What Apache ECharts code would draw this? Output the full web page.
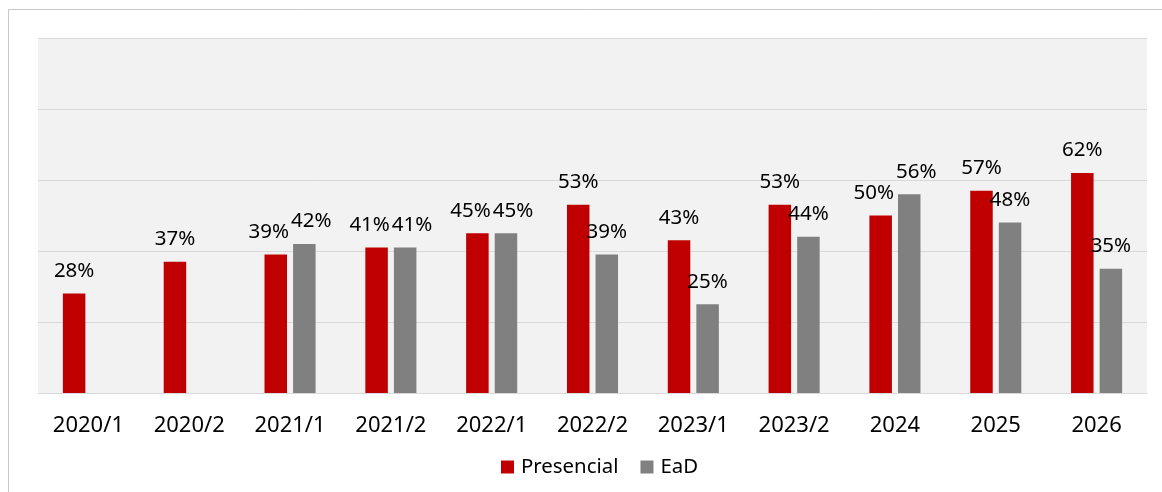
<!DOCTYPE html>
<html>
<head>
<meta charset="utf-8">
<script src="https://cdn.jsdelivr.net/npm/echarts@6/dist/echarts.min.js"></script>
<style>
  html, body { margin: 0; padding: 0; background: #ffffff; }
  #chart { width: 1162px; height: 492px; }
</style>
</head>
<body>
<div id="chart"></div>
<script>
var periods = ['2020/1', '2020/2', '2021/1', '2021/2', '2022/1', '2022/2', '2023/1', '2023/2', '2024', '2025', '2026'];
var presencial = [28, 37, 39, 41, 45, 53, 43, 53, 50, 57, 62];
var ead = [null, null, 42, 41, 45, 39, 25, 44, 56, 48, 35];
var seriesNames = ['Presencial', 'EaD'];

var Chart = echarts.init(document.getElementById('chart'));

var labelFont = 'Noto Sans, Open Sans, sans-serif';

function barLabel() {
    return {
        show: true,
        position: 'top',
        distance: 12,
        color: '#000000',
        fontFamily: labelFont,
        fontSize: 20.5,
        formatter: function (p) {
            return p.value == null ? '' : p.value + '%';
        }
    };
}

// push the two labels of one period apart when they collide (like Excel does)
function labelNudge(p) {
    var i = p.dataIndex;
    var a = presencial[i], b = ead[i];
    if (a == null || b == null) return {};
    var v = p.seriesIndex === 0 ? a : b;
    var px = p.rect.height / v;
    if (Math.abs(a - b) * px >= p.labelRect.height + 4) return {};
    var centerGap = p.rect.width * 1.27;
    var overlap = p.labelRect.width - centerGap + 2;
    if (overlap <= 0) return {};
    return { dx: p.seriesIndex === 0 ? -overlap / 2 : overlap / 2 };
}

var option = {
    animation: false,
    backgroundColor: '#ffffff',
    graphic: [{
        type: 'rect',
        shape: { x: 8.5, y: 9.5, width: 1300, height: 600 },
        style: { fill: 'none', stroke: '#c9c9c9', lineWidth: 1 },
        z: -1
    }],
    grid: {
        left: 38,
        right: 15,
        top: 38,
        bottom: 99,
        show: true,
        backgroundColor: '#f2f2f2',
        borderWidth: 0
    },
    legend: {
        left: 501,
        top: 457,
        padding: 0,
        itemWidth: 13,
        itemHeight: 13,
        itemGap: 22,
        icon: 'rect',
        textStyle: { fontFamily: labelFont, fontSize: 20.4, color: '#000000', padding: [0, 0, 0, 2] },
        data: seriesNames
    },
    xAxis: {
        type: 'category',
        data: periods,
        axisTick: { show: false },
        axisLine: { lineStyle: { color: '#d9d9d9', width: 1 } },
        axisLabel: {
            margin: 22,
            color: '#000000',
            fontFamily: labelFont,
            fontSize: 22
        }
    },
    yAxis: {
        type: 'value',
        min: 0,
        max: 100,
        interval: 20,
        axisLabel: { show: false },
        axisLine: { show: false },
        axisTick: { show: false },
        splitLine: { lineStyle: { color: '#d9d9d9', width: 1 } }
    },
    series: [{
        name: seriesNames[0],
        type: 'bar',
        data: presencial,
        barWidth: 22.5,
        barGap: '27%',
        itemStyle: { color: '#c00000' },
        label: barLabel(),
        labelLayout: labelNudge
    }, {
        name: seriesNames[1],
        type: 'bar',
        data: ead,
        barWidth: 22.5,
        barGap: '27%',
        itemStyle: { color: '#808080' },
        label: barLabel(),
        labelLayout: labelNudge
    }]
};

Chart.setOption(option);
</script>
</body>
</html>
